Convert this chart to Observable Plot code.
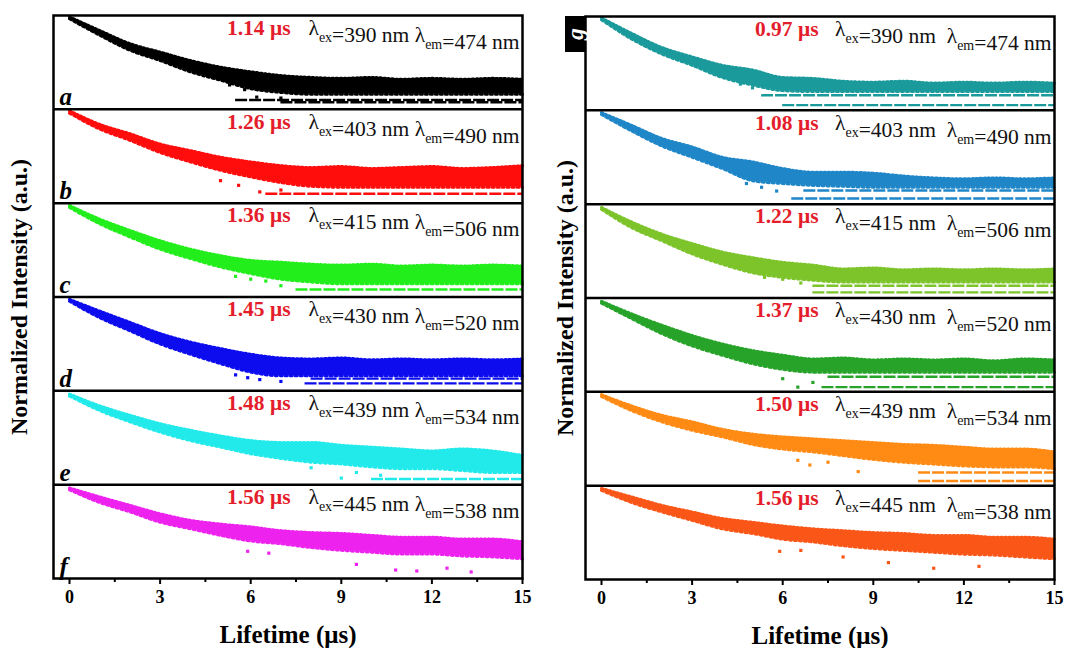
<!DOCTYPE html>
<html><head><meta charset="utf-8">
<script src="https://cdn.jsdelivr.net/npm/d3@7"></script>
<script src="https://cdn.jsdelivr.net/npm/@observablehq/plot@0.6"></script>
<style>
body{margin:0;background:#fff;}
#wrap{position:relative;width:1067px;height:648px;background:#fff;}
#left,#right{position:absolute;top:0;}
#left{left:0;} #right{left:533px;}
#wrap svg, #wrap svg text, #wrap svg tspan { font-family: "Liberation Serif", "Times New Roman", "DejaVu Serif", serif !important; }
</style></head><body><div id="wrap"><div id="left"></div><div id="right"></div></div>
<script>
// ---- data (intensity as fraction of each panel's height) ----
const T = [0,1,2,3,4,5,6,7,8,9,10,11,12,13,14,15];
const xTicks = [0,3,6,9,12,15];
const xMinorTicks = [1.5,4.5,7.5,10.5,13.5];

const leftLabels = ["a","b","c","d","e","f"];
const rightLabels = ["g","h","i","j","k","l"];
const leftColors = ["#000000","#ff0d0d","#22ee1c","#0c0cee","#22eaea","#ee22ee"];
const rightColors = ["#1b9a9c","#1f86c8","#7cc42a","#27a32a","#ff8a14","#fa5618"];
const leftLifetimes = ["1.14 μs","1.26 μs","1.36 μs","1.45 μs","1.48 μs","1.56 μs"];
const rightLifetimes = ["0.97 μs","1.08 μs","1.22 μs","1.37 μs","1.50 μs","1.56 μs"];
const leftEx = [390,403,415,430,439,445];
const leftEm = [474,490,506,520,534,538];
const rightEx = [390,403,415,430,439,445];
const rightEm = [474,490,506,520,534,538];

// upper / lower edge of the scatter band at T
const aHi = [0.985,0.84,0.70,0.61,0.52,0.45,0.40,0.36,0.34,0.33,0.34,0.32,0.33,0.32,0.33,0.32];
const aLo = [0.965,0.79,0.63,0.52,0.40,0.31,0.22,0.18,0.16,0.16,0.16,0.16,0.16,0.16,0.16,0.16];
const bHi = [0.985,0.84,0.74,0.63,0.56,0.49,0.44,0.40,0.38,0.39,0.37,0.38,0.39,0.37,0.38,0.40];
const bLo = [0.96,0.79,0.67,0.54,0.44,0.35,0.28,0.22,0.18,0.17,0.17,0.17,0.17,0.17,0.17,0.17];
const cHi = [0.975,0.83,0.71,0.60,0.51,0.44,0.39,0.37,0.35,0.34,0.35,0.33,0.34,0.33,0.34,0.33];
const cLo = [0.955,0.78,0.64,0.51,0.41,0.32,0.25,0.19,0.16,0.14,0.14,0.14,0.14,0.14,0.14,0.14];
const dHi = [0.975,0.85,0.73,0.61,0.52,0.45,0.39,0.35,0.34,0.35,0.33,0.34,0.33,0.34,0.33,0.34];
const dLo = [0.955,0.78,0.64,0.50,0.39,0.29,0.20,0.16,0.16,0.16,0.16,0.16,0.16,0.16,0.16,0.16];
const eHi = [0.965,0.84,0.74,0.65,0.58,0.52,0.47,0.45,0.45,0.42,0.40,0.38,0.36,0.38,0.36,0.31];
const eLo = [0.945,0.79,0.67,0.56,0.47,0.40,0.33,0.28,0.24,0.22,0.19,0.17,0.17,0.15,0.13,0.13];
const fHi = [0.965,0.87,0.78,0.69,0.62,0.58,0.55,0.51,0.49,0.48,0.46,0.44,0.44,0.42,0.42,0.39];
const fLo = [0.945,0.81,0.71,0.60,0.53,0.46,0.40,0.37,0.33,0.30,0.28,0.26,0.26,0.24,0.23,0.21];
const gHi = [0.985,0.82,0.67,0.57,0.48,0.43,0.35,0.34,0.31,0.30,0.31,0.29,0.30,0.29,0.30,0.29];
const gLo = [0.965,0.76,0.60,0.48,0.35,0.27,0.21,0.20,0.20,0.20,0.20,0.20,0.20,0.20,0.20,0.20];
const hHi = [0.975,0.84,0.70,0.61,0.50,0.45,0.38,0.34,0.34,0.33,0.30,0.28,0.27,0.28,0.27,0.28];
const hLo = [0.955,0.78,0.62,0.50,0.38,0.25,0.22,0.20,0.19,0.18,0.18,0.18,0.18,0.18,0.18,0.18];
const iHi = [0.965,0.81,0.68,0.58,0.49,0.43,0.38,0.35,0.31,0.32,0.30,0.31,0.30,0.31,0.30,0.31];
const iLo = [0.945,0.75,0.61,0.47,0.36,0.27,0.22,0.19,0.17,0.17,0.17,0.17,0.17,0.17,0.17,0.17];
const jHi = [0.965,0.83,0.71,0.60,0.51,0.44,0.39,0.35,0.36,0.34,0.35,0.34,0.35,0.33,0.35,0.34];
const jLo = [0.945,0.78,0.62,0.49,0.39,0.30,0.24,0.21,0.21,0.21,0.21,0.21,0.21,0.21,0.21,0.21];
const kHi = [0.97,0.85,0.75,0.68,0.60,0.55,0.52,0.50,0.48,0.46,0.44,0.43,0.41,0.39,0.39,0.36];
const kLo = [0.95,0.80,0.68,0.59,0.52,0.44,0.39,0.36,0.32,0.28,0.25,0.23,0.21,0.20,0.20,0.18];
const lHi = [0.97,0.88,0.79,0.72,0.65,0.61,0.57,0.54,0.52,0.50,0.49,0.47,0.47,0.45,0.45,0.43];
const lLo = [0.95,0.82,0.72,0.63,0.54,0.49,0.43,0.40,0.36,0.33,0.31,0.29,0.27,0.26,0.24,0.22];

// quantized count levels at the tail: [level, tStart, tEnd]
const aStripes = [[0.10,5.5,15],[0.075,7,15]];
const bStripes = [[0.10,6.5,15]];
const cStripes = [[0.08,7.5,15]];
const dStripes = [[0.13,8,15],[0.08,7.8,15]];
const eStripes = [[0.06,10,15]];
const fStripes = [];
const gStripes = [[0.16,5.3,15],[0.055,6,15]];
const hStripes = [[0.145,6.7,15],[0.06,6.3,15]];
const iStripes = [[0.13,7,15],[0.06,7,15]];
const jStripes = [[0.16,7.5,15],[0.05,7.3,15]];
const kStripes = [[0.14,10.5,15],[0.05,10.5,15]];
const lStripes = [];

// isolated outlier points [t, level]
const aOut = [[5.3,0.26],[6.2,0.13],[7.0,0.12],[5.8,0.21]];
const bOut = [[5.6,0.19],[6.3,0.12],[7.0,0.14],[5.0,0.24]];
const cOut = [[5.5,0.22],[6.0,0.19],[7.0,0.12],[6.5,0.17]];
const dOut = [[5.5,0.17],[6.3,0.12],[7.0,0.10],[5.9,0.14]];
const eOut = [[9.0,0.07],[10.3,0.10],[8.0,0.18],[9.5,0.13]];
const fOut = [[5.9,0.29],[6.6,0.27],[9.5,0.15],[10.8,0.09],[11.5,0.08],[12.5,0.11],[13.3,0.07]];
const gOut = [[4.6,0.28],[5.0,0.24]];
const hOut = [[4.8,0.22],[5.3,0.18],[5.8,0.14]];
const iOut = [[5.4,0.22],[6.0,0.20],[6.6,0.16]];
const jOut = [[6.0,0.14],[7.0,0.10],[6.5,0.05]];
const kOut = [[6.5,0.27],[6.9,0.22],[7.5,0.25],[8.5,0.15]];
const lOut = [[5.9,0.30],[6.6,0.31],[8.0,0.24],[9.5,0.18],[11,0.12],[12.5,0.14]];

const FONT = "Liberation Serif";
const RED = "#e41d2b";

function buildSide(el, cfg) {
  const n = cfg.labels.length;
  const band = [], stripes = [], outs = [], panels = [];
  cfg.labels.forEach((lab, i) => {
    const off = n - 1 - i;
    panels.push({lab, top: off + 1, bottom: off, life: cfg.lifetimes[i],
                 lam: `λex=${cfg.ex[i]} nm${cfg.sep}λem=${cfg.em[i]} nm`});
    T.forEach((t, j) => band.push({lab, t, hi: cfg.his[i][j] + off, lo: cfg.los[i][j] + off, color: cfg.colors[i]}));
    cfg.stripes[i].forEach(([lv, t1, t2]) => stripes.push({lab, y: lv + off, t1, t2, color: cfg.colors[i]}));
    cfg.outs[i].forEach(([t, lv]) => outs.push({t, y: lv + off, color: cfg.colors[i]}));
  });
  const letters = cfg.showLetters ? panels : [];
  const chart = Plot.plot({
    width: cfg.width, height: 648,
    marginLeft: cfg.mL, marginRight: cfg.mR, marginTop: cfg.mT, marginBottom: cfg.mB,
    x: {domain: [-0.53, 15]},
    y: {domain: [0, n], axis: null},
    color: {type: "identity"},
    style: {fontFamily: FONT, fontSize: "18px", background: "#fff", overflow: "visible"},
    marks: [
      Plot.area(band, {x1: "t", y1: "lo", y2: "hi", z: "lab", fill: "color", curve: "monotone-x"}),
      Plot.line(band, {x: "t", y: "hi", z: "lab", stroke: "color", strokeWidth: 3, strokeDasharray: "1.5 2.5", curve: "monotone-x"}),
      Plot.line(band, {x: "t", y: "lo", z: "lab", stroke: "color", strokeWidth: 3, strokeDasharray: "2 3", curve: "monotone-x"}),
      Plot.ruleY(stripes, {y: "y", x1: "t1", x2: "t2", stroke: "color", strokeWidth: 2.4, strokeDasharray: "12 2"}),
      Plot.dot(outs, {x: "t", y: "y", fill: "color", r: 1.8, symbol: "square"}),
      Plot.ruleY(panels.slice(1), {y: "top", stroke: "#000", strokeWidth: 2.5}),
      Plot.frame({stroke: "#000", strokeWidth: 2.5}),
      Plot.axisX({ticks: xTicks, tickSize: 6, tickPadding: 6, strokeWidth: 2, fontSize: 18, fontWeight: "bold", fontFamily: FONT, label: null}),
      Plot.axisX({ticks: xMinorTicks, tickSize: 4, strokeWidth: 2, tickFormat: () => "", label: null}),
      Plot.text(panels, {frameAnchor: "right", y: "top", text: "life", dx: -cfg.lifeDx, dy: 4, textAnchor: "end", lineAnchor: "top", fill: RED, fontWeight: "bold", fontSize: 21.5, fontFamily: FONT}),
      Plot.text(panels, {frameAnchor: "right", y: "top", text: "lam", dx: -3, dy: 4, textAnchor: "end", lineAnchor: "top", fill: "#111", fontSize: 21.5, fontFamily: FONT}),
      Plot.text(letters, {frameAnchor: "left", y: "bottom", text: "lab", dx: 6, dy: -4, textAnchor: "start", lineAnchor: "bottom", fontStyle: "italic", fontWeight: "bold", fontSize: 25, fontFamily: FONT}),
      Plot.text(["Normalized Intensity (a.u.)"], {text: d => d, frameAnchor: "left", textAnchor: "middle", lineAnchor: "middle", rotate: -90, dx: -cfg.yLabelDx, fontWeight: "bold", fontSize: 24, fontFamily: FONT}),
      Plot.text(["Lifetime (μs)"], {text: d => d, frameAnchor: "bottom", textAnchor: "middle", lineAnchor: "middle", dy: 56, fontWeight: "bold", fontSize: 25, fontFamily: FONT})
    ]
  });
  // turn λex / λem into λ with subscripts
  d3.select(chart).selectAll("text").each(function () {
    const s = this.textContent;
    if (!s.includes("λex")) return;
    const sel = d3.select(this);
    sel.text(null);
    const parts = s.split(/λ(ex|em)/);
    parts.forEach((p, k) => {
      if (k % 2 === 0) { if (p) sel.append("tspan").text(p); if (k < parts.length - 1) sel.append("tspan").text("λ"); }
      else {
        sel.append("tspan").attr("dy", 7).attr("font-size", 14).text(p);
        sel.append("tspan").attr("dy", -7).text("");
      }
    });
  });
  el.appendChild(chart);
  return chart;
}

buildSide(document.getElementById("left"), {
  labels: leftLabels, colors: leftColors, lifetimes: leftLifetimes, ex: leftEx, em: leftEm,
  his: [aHi,bHi,cHi,dHi,eHi,fHi], los: [aLo,bLo,cLo,dLo,eLo,fLo],
  stripes: [aStripes,bStripes,cStripes,dStripes,eStripes,fStripes],
  outs: [aOut,bOut,cOut,dOut,eOut,fOut],
  width: 533, mL: 53, mR: 11, mT: 15, mB: 70, lifeDx: 232, yLabelDx: 34, sep: " ", showLetters: true
});
const right = buildSide(document.getElementById("right"), {
  labels: rightLabels, colors: rightColors, lifetimes: rightLifetimes, ex: rightEx, em: rightEm,
  his: [gHi,hHi,iHi,jHi,kHi,lHi], los: [gLo,hLo,iLo,jLo,kLo,lLo],
  stripes: [gStripes,hStripes,iStripes,jStripes,kStripes,lStripes],
  outs: [gOut,hOut,iOut,jOut,kOut,lOut],
  width: 534, mL: 52, mR: 13, mT: 16, mB: 69, lifeDx: 236, yLabelDx: 20, sep: "  ", showLetters: false
});
// black tag with the panel letter g
const svgR = d3.select(right);
svgR.append("rect").attr("x", 32).attr("y", 16).attr("width", 20).attr("height", 36).attr("fill", "#000");
svgR.append("text").attr("transform", "translate(42,34) rotate(-90)")
  .attr("text-anchor", "middle").attr("dy", "0.32em")
  .attr("fill", "#fff").attr("font-family", FONT).attr("font-weight", "bold").attr("font-style", "italic")
  .attr("font-size", 24).text("g");
</script></body></html>
